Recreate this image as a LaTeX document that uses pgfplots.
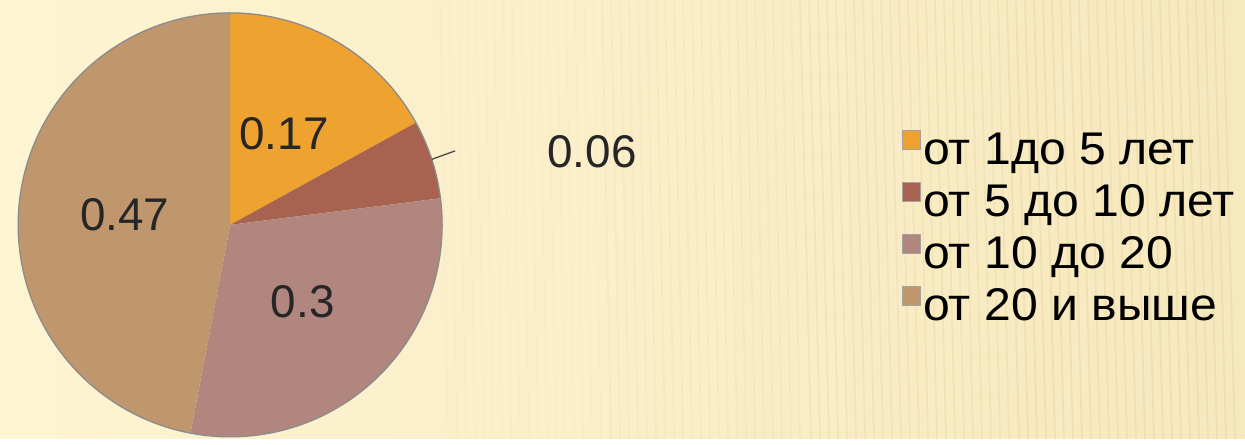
\documentclass[border=0pt]{standalone}
\usepackage{pgfplots}
\pgfplotsset{compat=1.18}
\usepackage{pgfplotstable}
\usepackage{fontspec}
\setmainfont{Liberation Sans}
\newfontfamily\legfont[FakeStretch=1.05]{Liberation Sans}

\definecolor{c0}{RGB}{238,162,48}
\definecolor{c1}{RGB}{168,98,80}
\definecolor{c2}{RGB}{176,134,126}
\definecolor{c3}{RGB}{192,150,108}
\definecolor{rim}{RGB}{140,140,140}
\definecolor{bgL}{RGB}{253,244,210}
\definecolor{bgR}{RGB}{247,233,190}
\definecolor{stripe}{RGB}{228,205,150}

\pgfplotstableread{
share
0.17
0.06
0.3
0.47
}\piedata

\def\cx{230}\def\cy{214}\def\R{212}
\def\acc{90}
\pgfplotsforeachungrouped \i in {0,1,2,3}{%
  \pgfplotstablegetelem{\i}{share}\of\piedata
  \let\v\pgfplotsretval
  \pgfmathsetmacro{\e}{\acc-360*\v}%
  \pgfmathsetmacro{\m}{(\acc+\e)/2}%
  \expandafter\xdef\csname pieS\i\endcsname{\acc}%
  \expandafter\xdef\csname pieE\i\endcsname{\e}%
  \expandafter\xdef\csname pieM\i\endcsname{\m}%
  \expandafter\xdef\csname pieV\i\endcsname{\v}%
  \xdef\acc{\e}%
}

\begin{document}
\begin{tikzpicture}
\begin{axis}[x=1bp, y=1bp, xmin=0, xmax=1245, ymin=0, ymax=438,
  hide axis, clip=false]
% background
\shade[left color=bgL, right color=bgR] (axis cs:0,0) rectangle (axis cs:1245,438);
\pgfplotsinvokeforeach{0,...,17}{
  \draw[stripe, opacity=0.08, line width=1.6bp] (axis cs:{440+9*#1},438) -- (axis cs:{448+9*#1},0);
}
\pgfplotsinvokeforeach{0,...,21}{
  \draw[stripe, opacity=0.17, line width=1.6bp] (axis cs:{602+9*#1},438) -- (axis cs:{611+9*#1},0);
}
\pgfplotsinvokeforeach{0,...,22}{
  \draw[stripe, opacity=0.26, line width=1.8bp] (axis cs:{800+9*#1},438) -- (axis cs:{811+9*#1},0);
}
\pgfplotsinvokeforeach{0,...,24}{
  \draw[stripe, opacity=0.34, line width=1.8bp] (axis cs:{1007+9*#1},438) -- (axis cs:{1019+9*#1},0);
}
% pie sectors from the table
\pgfplotsinvokeforeach{0,1,2,3}{
  \fill[c#1] (axis cs:\cx,\cy) -- ([shift={(\csname pieS#1\endcsname:\R bp)}]axis cs:\cx,\cy)
    arc[start angle=\csname pieS#1\endcsname, end angle=\csname pieE#1\endcsname, radius=\R bp] -- cycle;
}
\draw[rim, line width=1.3bp] (axis cs:\cx,\cy) circle[radius=\R bp];
% labels
\pgfplotsinvokeforeach{0,2,3}{
  \node[font=\fontsize{46}{48}\selectfont, text=black!85] at ([shift={(\csname pieM#1\endcsname:106bp)}]axis cs:\cx,\cy) {\csname pieV#1\endcsname};
}
\draw[black!75, line width=1.2bp] ([shift={(\csname pieM1\endcsname:\R bp)}]axis cs:\cx,\cy) -- (axis cs:455,288);
\node[font=\fontsize{46}{48}\selectfont, text=black!85] at (axis cs:592,287) {\csname pieV1\endcsname};
% legend
\fill[c0, draw=rim!80, line width=0.8bp] (axis cs:902,289) rectangle (axis cs:920,308);
\node[anchor=base west, inner sep=0pt, font=\legfont\fontsize{46}{48}\selectfont] at (axis cs:923,274) {от 1до 5 лет};
\fill[c1, draw=rim!80, line width=0.8bp] (axis cs:902,237) rectangle (axis cs:920,256);
\node[anchor=base west, inner sep=0pt, font=\legfont\fontsize{46}{48}\selectfont] at (axis cs:923,222) {от 5 до 10 лет};
\fill[c2, draw=rim!80, line width=0.8bp] (axis cs:902,185) rectangle (axis cs:920,204);
\node[anchor=base west, inner sep=0pt, font=\legfont\fontsize{46}{48}\selectfont] at (axis cs:923,170) {от 10 до 20};
\fill[c3, draw=rim!80, line width=0.8bp] (axis cs:902,133) rectangle (axis cs:920,152);
\node[anchor=base west, inner sep=0pt, font=\legfont\fontsize{46}{48}\selectfont] at (axis cs:923,118) {от 20 и выше};
\end{axis}
\end{tikzpicture}
\end{document}
